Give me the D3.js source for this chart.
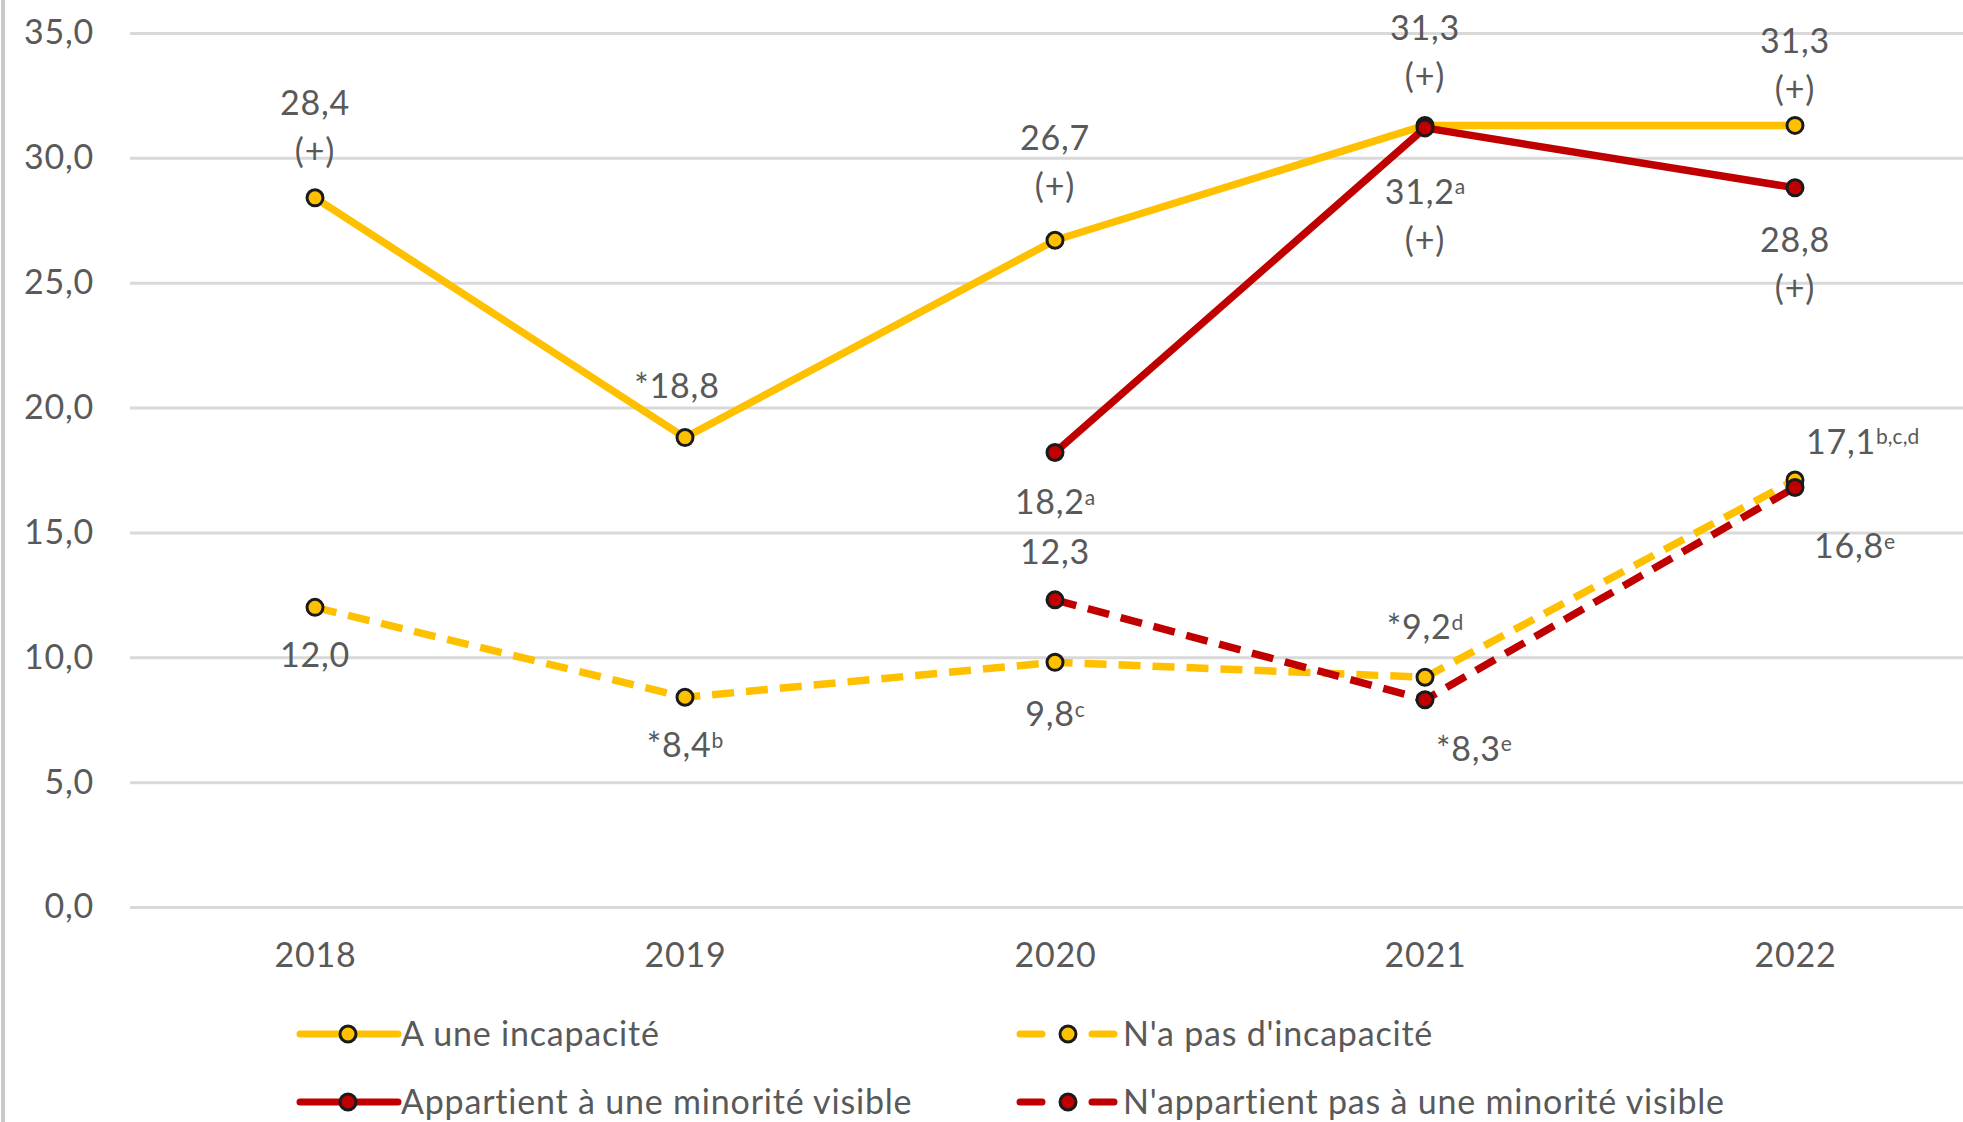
<!DOCTYPE html>
<html>
<head>
<meta charset="utf-8">
<script src="https://cdn.jsdelivr.net/npm/d3@7"></script>
<style>
  body { margin: 0; background: #fff; }
  svg { display: block; font-family: Lato, 'Open Sans', sans-serif; }
  .lbl { fill: #595959; font-size: 34px; letter-spacing: 0.8px; }
</style>
</head>
<body>
<svg id="chart" width="1963" height="1122"></svg>
<script>
// Donnees
const annees = ['2018', '2019', '2020', '2021', '2022'];
const aUneIncapacite = [28.4, 18.8, 26.7, 31.3, 31.3];
const pasIncapacite = [12.0, 8.4, 9.8, 9.2, 17.1];
const minoriteVisible = [null, null, 18.2, 31.2, 28.8];
const pasMinoriteVisible = [null, null, 12.3, 8.3, 16.8];
const yTicks = [0, 5, 10, 15, 20, 25, 30, 35];

// Etiquettes: [texte, exposant] par ligne
const etiqIncapacite = [[['28,4'], ['(+)']], [['*18,8']], [['26,7'], ['(+)']], [['31,3'], ['(+)']], [['31,3'], ['(+)']]];
const etiqPasIncapacite = [[['12,0']], [['*8,4', 'b']], [['9,8', 'c']], [['*9,2', 'd']], [['17,1', 'b,c,d']]];
const etiqMinorite = [null, null, [['18,2', 'a']], [['31,2', 'a'], ['(+)']], [['28,8'], ['(+)']]];
const etiqPasMinorite = [null, null, [['12,3']], [['*8,3', 'e']], [['16,8', 'e']]];

const JAUNE = '#FFC000';
const ROUGE = '#C00000';

const series = [
    { nom: 'A une incapacité', valeurs: aUneIncapacite, etiq: etiqIncapacite, couleur: JAUNE, tirets: false,
      pos: [{dy: -95}, {dx: -8, dy: -51}, {dy: -102}, {dy: -97}, {dy: -84}] },
    { nom: "N'a pas d'incapacité", valeurs: pasIncapacite, etiq: etiqPasIncapacite, couleur: JAUNE, tirets: true,
      pos: [{dy: 48}, {dy: 48}, {dy: 52}, {dy: -50}, {dx: 11, dy: -38, anchor: 'start'}] },
    { nom: 'Appartient à une minorité visible', valeurs: minoriteVisible, etiq: etiqMinorite, couleur: ROUGE, tirets: false,
      pos: [null, null, {dy: 50}, {dy: 64}, {dy: 52}] },
    { nom: "N'appartient pas à une minorité visible", valeurs: pasMinoriteVisible, etiq: etiqPasMinorite, couleur: ROUGE, tirets: true,
      pos: [null, null, {dy: -48}, {dx: 11, dy: 49, anchor: 'start'}, {dx: 19, dy: 59, anchor: 'start'}] }
];

const svg = d3.select('#chart');
const width = 1963;

// Echelles
const xScale = d3.scalePoint()
    .domain(annees)
    .range([130, 1980])
    .padding(0.5);

const yScale = d3.scaleLinear()
    .domain([0, 35])
    .range([907, 33]);

const fmt = d => d3.format('.1f')(d).replace('.', ',');

// Bordure gauche
svg.append('line')
    .attr('x1', 3).attr('x2', 3)
    .attr('y1', 0).attr('y2', 1122)
    .style('stroke', '#c8c8c8')
    .style('stroke-width', 4);

// Grille + axe Y
const yAxis = d3.axisLeft(yScale)
    .tickValues(yTicks)
    .tickFormat(fmt)
    .tickSize(-(width - 130))
    .tickPadding(36);

const gy = svg.append('g')
    .attr('transform', 'translate(130,0)')
    .call(yAxis);
gy.select('.domain').remove();
gy.selectAll('.tick line')
    .style('stroke', '#d9d9d9')
    .style('stroke-width', 3);
gy.selectAll('.tick text')
    .attr('class', 'lbl')
    .style('font-family', 'Lato, sans-serif');

// Axe X
const xAxis = d3.axisBottom(xScale).tickSize(0).tickPadding(36);
const gx = svg.append('g')
    .attr('transform', 'translate(0,907)')
    .call(xAxis);
gx.select('.domain').remove();
gx.selectAll('.tick text')
    .attr('class', 'lbl')
    .style('font-family', 'Lato, sans-serif');

// Lignes
const line = d3.line()
    .defined(d => d != null)
    .x((d, i) => xScale(annees[i]))
    .y(d => yScale(d));

series.forEach(s => {
    svg.append('path')
        .datum(s.valeurs)
        .attr('d', line)
        .style('fill', 'none')
        .style('stroke', s.couleur)
        .style('stroke-width', 7.5)
        .style('stroke-linejoin', 'round')
        .style('stroke-dasharray', s.tirets ? '22,12' : null);
});

// Marqueurs
series.forEach(s => {
    svg.selectAll(null)
        .data(s.valeurs.map((v, i) => ({ v, i })).filter(d => d.v != null))
        .enter()
        .append('circle')
        .attr('cx', d => xScale(annees[d.i]))
        .attr('cy', d => yScale(d.v))
        .attr('r', 8)
        .style('fill', s.couleur)
        .style('stroke', '#1a1a1a')
        .style('stroke-width', 3);
});

// Etiquettes de donnees
function ecrireEtiquette(g, x, y, morceaux, anchor) {
    const t = g.append('text')
        .attr('class', 'lbl')
        .attr('x', x)
        .attr('y', y)
        .attr('dy', '0.35em')
        .attr('text-anchor', anchor || 'middle');
    t.append('tspan').text(morceaux[0]);
    if (morceaux[1]) {
        t.append('tspan')
            .attr('dy', '-0.45em')
            .style('font-size', '21px')
            .style('letter-spacing', '0px')
            .text(morceaux[1]);
    }
}

const gLabels = svg.append('g');
series.forEach(s => {
    s.valeurs.forEach((v, i) => {
        if (v == null || !s.etiq[i]) return;
        const p = s.pos[i];
        const x = xScale(annees[i]) + (p.dx || 0);
        const y0 = yScale(v) + p.dy;
        s.etiq[i].forEach((lignes, k) => {
            ecrireEtiquette(gLabels, x, y0 + k * 48, lignes, p.anchor);
        });
    });
});

// Legende
const legende = svg.append('g');
const colX = [300, 1020];
const rowY = [1034, 1102];
series.forEach((s, i) => {
    const lx = colX[i % 2];
    const ly = rowY[Math.floor(i / 2)];
    const g = legende.append('g').attr('transform', `translate(${lx},${ly})`);
    if (s.tirets) {
        [[0, 22], [72, 94]].forEach(([a, b]) => {
            g.append('line')
                .attr('x1', a).attr('x2', b)
                .attr('y1', 0).attr('y2', 0)
                .style('stroke', s.couleur)
                .style('stroke-width', 7)
                .style('stroke-linecap', 'round');
        });
        g.append('circle').attr('cx', 48).attr('cy', 0).attr('r', 8)
            .style('fill', s.couleur).style('stroke', '#1a1a1a').style('stroke-width', 3);
        g.append('text').attr('class', 'lbl').attr('x', 103).attr('y', 0).attr('dy', '0.35em').text(s.nom);
    } else {
        g.append('line')
            .attr('x1', 0).attr('x2', 98)
            .attr('y1', 0).attr('y2', 0)
            .style('stroke', s.couleur)
            .style('stroke-width', 7)
            .style('stroke-linecap', 'round');
        g.append('circle').attr('cx', 48).attr('cy', 0).attr('r', 8)
            .style('fill', s.couleur).style('stroke', '#1a1a1a').style('stroke-width', 3);
        g.append('text').attr('class', 'lbl').attr('x', 101).attr('y', 0).attr('dy', '0.35em').text(s.nom);
    }
});
</script>
</body>
</html>
